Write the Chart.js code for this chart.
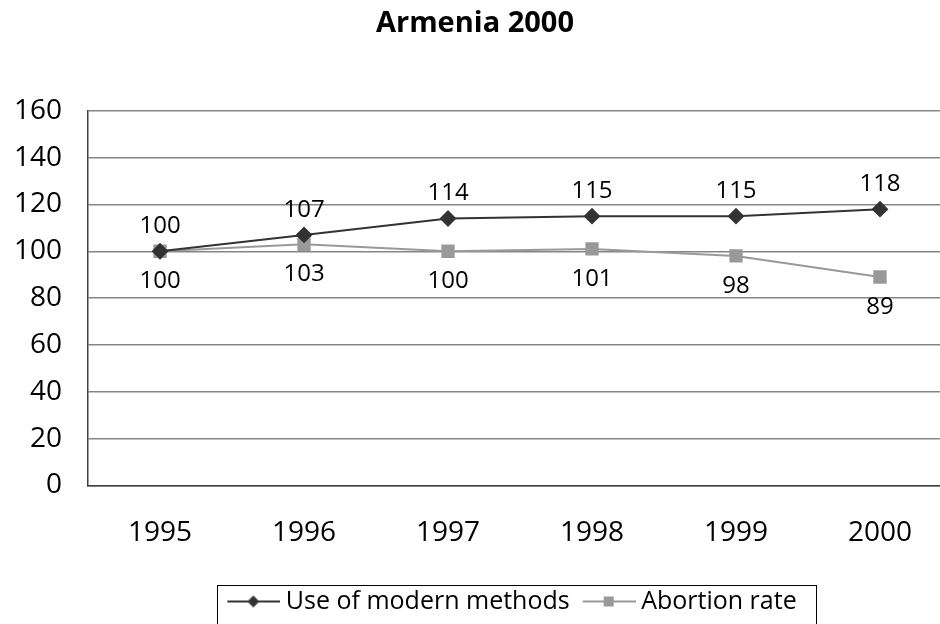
<!DOCTYPE html>
<html>
<head>
<meta charset="utf-8">
<script src="https://cdn.jsdelivr.net/npm/chart.js@4/dist/chart.umd.min.js"></script>
<style>
  html, body { margin: 0; padding: 0; background: #fff; overflow: hidden; }
  #wrap { width: 962px; height: 624px; }
</style>
</head>
<body>
<div id="wrap"><canvas id="chart"></canvas></div>
<script>
const years = ['1995', '1996', '1997', '1998', '1999', '2000'];
const modernMethods = [100, 107, 114, 115, 115, 118];
const abortionRate = [100, 103, 100, 101, 98, 89];
const yTicks = [0, 20, 40, 60, 80, 100, 120, 140, 160];

const FONT = "'Open Sans', 'DejaVu Sans', sans-serif";
const LEGEND_SHIFT_X = 37;
const LEGEND_SHIFT_Y = -5;

// little line + marker images for the legend
function legendIcon(color, shape) {
  const c = document.createElement('canvas');
  c.width = 60;
  c.height = 14;
  const g = c.getContext('2d');
  g.strokeStyle = color;
  g.lineWidth = 2;
  g.beginPath();
  g.moveTo(7, 7);
  g.lineTo(60, 7);
  g.stroke();
  g.fillStyle = color;
  if (shape === 'diamond') {
    g.beginPath();
    g.moveTo(33, 1);
    g.lineTo(39, 7);
    g.lineTo(33, 13);
    g.lineTo(27, 7);
    g.closePath();
    g.fill();
  } else {
    g.fillRect(28, 2, 10, 10);
  }
  return c;
}

const valueLabels = {
  id: 'valueLabels',
  afterDatasetsDraw(chart) {
    const ctx = chart.ctx;
    ctx.save();
    ctx.font = '24px ' + FONT;
    ctx.fillStyle = '#000';
    ctx.textAlign = 'center';
    ctx.textBaseline = 'middle';
    chart.data.datasets.forEach((ds, i) => {
      const meta = chart.getDatasetMeta(i);
      meta.data.forEach((pt, j) => {
        const dy = i === 0 ? -25 : 30;
        ctx.fillText(String(ds.data[j]), pt.x, pt.y + dy);
      });
    });
    ctx.restore();
  }
};

// the original legend is not centred, nudge it
const legendShift = {
  id: 'legendShift',
  afterLayout(chart) {
    const lg = chart.legend;
    lg.left += LEGEND_SHIFT_X;
    lg.right += LEGEND_SHIFT_X;
    lg.top += LEGEND_SHIFT_Y;
    lg.bottom += LEGEND_SHIFT_Y;
  }
};

// box round the legend, its bottom runs off the page like in the original
const legendBorder = {
  id: 'legendBorder',
  afterDraw(chart) {
    const boxes = chart.legend.legendHitBoxes;
    if (!boxes || !boxes.length) return;
    const left = Math.min(...boxes.map(b => b.left)) - 10;
    const right = Math.max(...boxes.map(b => b.left + b.width)) + 20;
    const top = Math.min(...boxes.map(b => b.top)) - 4;
    const bottom = chart.height + 10;
    const ctx = chart.ctx;
    ctx.save();
    ctx.strokeStyle = '#000';
    ctx.lineWidth = 1;
    ctx.strokeRect(Math.round(left) + 0.5, Math.round(top) + 0.5, Math.round(right - left), Math.round(bottom - top));
    ctx.restore();
  }
};

new Chart(document.getElementById('chart'), {
  type: 'line',
  data: {
    labels: years,
    datasets: [
      {
        label: 'Use of modern methods',
        data: modernMethods,
        borderColor: '#333333',
        backgroundColor: '#333333',
        borderWidth: 2,
        pointStyle: 'rectRot',
        pointRadius: 7,
        pointHoverRadius: 7,
        tension: 0
      },
      {
        label: 'Abortion rate',
        data: abortionRate,
        borderColor: '#999999',
        backgroundColor: '#999999',
        borderWidth: 2,
        pointStyle: 'rect',
        pointRadius: 8,
        pointHoverRadius: 8,
        tension: 0
      }
    ]
  },
  options: {
    responsive: true,
    maintainAspectRatio: false,
    animation: false,
    layout: {
      padding: { left: -12, right: 0, top: 0, bottom: -5 }
    },
    plugins: {
      title: {
        display: true,
        text: 'Armenia 2000',
        color: '#000',
        font: { family: FONT, size: 29, weight: 'bold' },
        padding: { top: 6, bottom: 70 }
      },
      legend: {
        position: 'bottom',
        labels: {
          color: '#000',
          font: { family: FONT, size: 25 },
          usePointStyle: true,
          pointStyleWidth: 46,
          padding: 13,
          generateLabels(chart) {
            return chart.data.datasets.map((ds, i) => ({
              text: ds.label,
              pointStyle: legendIcon(ds.borderColor, i === 0 ? 'diamond' : 'square'),
              fillStyle: ds.borderColor,
              strokeStyle: ds.borderColor,
              lineWidth: 0,
              hidden: false,
              datasetIndex: i
            }));
          }
        }
      },
      tooltip: { enabled: false }
    },
    scales: {
      y: {
        min: 0,
        max: 160,
        afterBuildTicks(axis) {
          axis.ticks = yTicks.map(v => ({ value: v }));
        },
        ticks: {
          color: '#000',
          font: { family: FONT, size: 28 },
          padding: 26
        },
        grid: {
          color: '#858585',
          lineWidth: 1.5,
          drawTicks: false
        },
        border: { color: '#404040', width: 1.5 }
      },
      x: {
        offset: true,
        ticks: {
          color: '#000',
          font: { family: FONT, size: 28 },
          padding: 31
        },
        grid: { display: false, drawTicks: false },
        border: { color: '#404040', width: 1.5 }
      }
    }
  },
  plugins: [valueLabels, legendShift, legendBorder]
});
</script>
</body>
</html>
